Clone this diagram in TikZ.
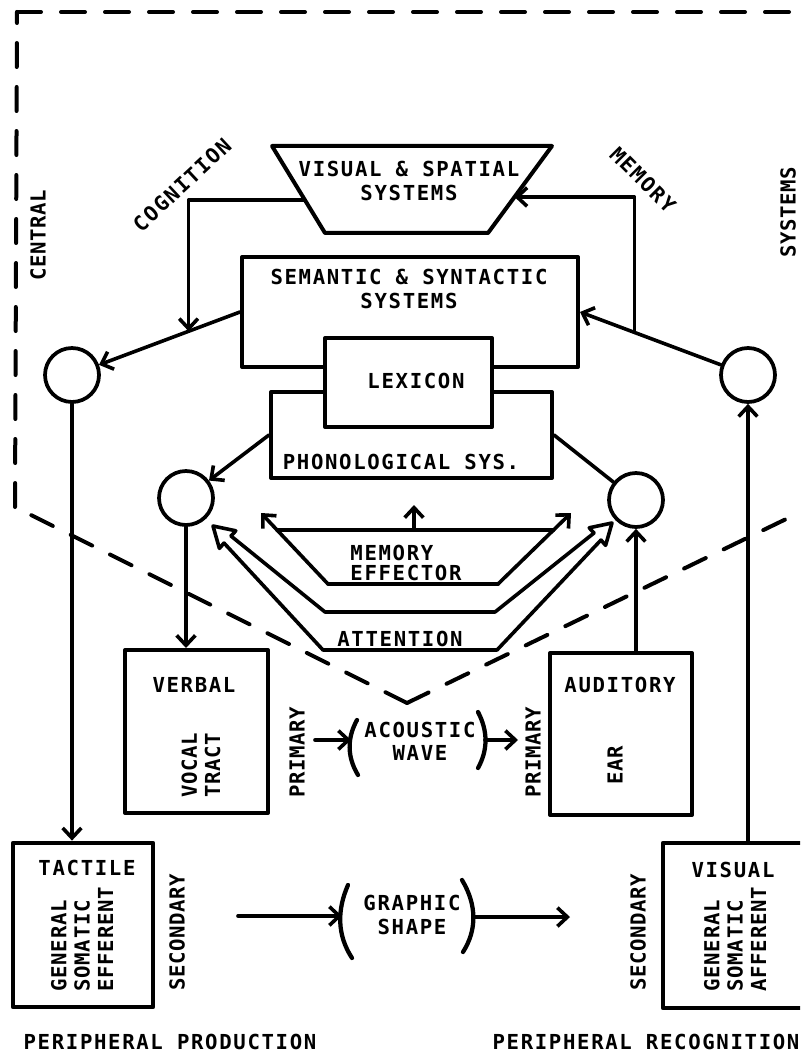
\documentclass[tikz,border=0pt]{standalone}
\usepackage{fontspec}
\newfontfamily\tw{DejaVu Sans Mono}[LetterSpace=8]
\newfontfamily\twr{DejaVu Sans Mono}[LetterSpace=3]
\usetikzlibrary{arrows.meta,calc}
\begin{document}
\begin{tikzpicture}[x=0.75pt,y=-0.75pt,line width=2.7pt,line join=round,line cap=round,
  lbl/.style={inner sep=0pt,align=center,font=\tw\bfseries\fontsize{15.5}{17.5}\selectfont},
  rlbl/.style={inner sep=0pt,align=center,rotate=90,font=\twr\bfseries\fontsize{15.5}{17.5}\selectfont},
  boxn/.style={draw,line width=3pt,inner sep=0pt},
  circ/.style={draw,line width=2.8pt,circle,minimum size=40.5pt,inner sep=0pt},
  ar/.style={-{Straight Barb[length=7.5pt,width=14pt]}},
  dsh/.style={line width=3pt,dash pattern=on 18pt off 15pt},
  paren/.style={line width=3.2pt}]
\useasboundingbox (0,0) rectangle (800,1055);
\fill[white] (0,0) rectangle (800,1055);
\clip (0,0) rectangle (800,1055);

% dashed boundary
\coordinate (bTL) at (17,12);
\coordinate (bTR) at (815,12);
\coordinate (bBL) at (15,507);
\coordinate (bV) at (407,703);
\coordinate (bR) at (815,505);
\draw[dsh] (bTL) -- (bTR);
\draw[dsh] (bBL) -- (bTL);
\draw[dsh] (bV) -- (bBL);
\draw[dsh] (bV) -- (bR);

% visual & spatial trapezoid
\coordinate (v1) at (272,146);
\coordinate (v2) at (552,146);
\coordinate (v3) at (488,233);
\coordinate (v4) at (325,233);
\draw[line width=3pt] (v1) -- (v2) -- (v3) -- (v4) -- cycle;
\node[lbl] (vis) at (409,181) {VISUAL \& SPATIAL\\SYSTEMS};
\coordinate (visL) at ($(v1)!0.62!(v4)$);
\coordinate (visR) at ($(v2)!0.586!(v3)$);

% central boxes
\node[boxn,minimum width=252pt,minimum height=82.5pt] (sem) at (410,312) {};
\node[lbl] (semt) at (409,289) {SEMANTIC \& SYNTACTIC\\SYSTEMS};
\node[boxn,minimum width=210.75pt,minimum height=64.5pt] (phon) at (411.5,435) {};
\node[lbl] (phont) at (401,462) {PHONOLOGICAL SYS.};
\node[boxn,fill=white,minimum width=125.25pt,minimum height=66.75pt] (lex) at (408.5,382.5) {};
\node[lbl] (lext) at (416,381) {LEXICON};

% circles
\node[circ] (cL1) at (72,375) {};
\node[circ] (cL2) at (186,498) {};
\node[circ] (cR2) at (636,500) {};
\node[circ] (cR1) at (748,375) {};

% peripheral boxes
\node[boxn,minimum width=107.25pt,minimum height=122.25pt] (verb) at (196.5,731.5) {};
\node[boxn,minimum width=106.5pt,minimum height=121.5pt] (aud) at (621,734) {};
\node[boxn,line width=3.6pt,minimum width=105pt,minimum height=123pt] (tac) at (83,925) {};
\node[boxn,line width=3.6pt,minimum width=125.25pt,minimum height=123.75pt] (visb) at (746.5,925.5) {};

% connectors
\draw[ar] (sem.west) -- (cL1);
\coordinate (cogEnd) at ($(sem.west)!0.306!(cL1.center)$);
\draw[ar] (visL) -| (cogEnd);
\draw[ar] (cR1) -- (sem.east);
\coordinate (memStart) at ($(cR1.center)!0.676!(sem.east)$);
\draw[ar] (memStart) |- (visR);
\draw[ar] (cL1) -- (cL1 |- tac.north);
\draw[ar] (phon.west) -- (cL2);
\draw (phon.east) -- (cR2);
\draw[ar] (cL2) -- (cL2 |- verb.north);
\draw[ar] (cR2 |- aud.north) -- (cR2);
\draw[ar] (cR1 |- visb.north) -- (cR1);

% memory effector
\coordinate (meL) at (261,513);
\coordinate (meBL) at (328,584);
\coordinate (meBR) at (498,584);
\coordinate (meR) at (571,513);
\coordinate (meC) at (414,530);
\coordinate (meCt) at (414,505);
\draw[ar] (meBL) -- (meL);
\draw[ar] (meBR) -- (meR);
\draw (meBL) -- (meBR);
\draw ($(meBL)!0.761!(meL)$) -- ($(meBR)!0.761!(meR)$);
\draw[ar] (meC) -- (meCt);
\node[lbl,align=left,font=\tw\bfseries\fontsize{15.5}{15}\selectfont] (me) at (406,563) {MEMORY\\EFFECTOR};

% attention (hollow double arrow)
\draw (231,536) -- (325,612) -- (495,612) -- (594,533);
\draw (224,543) -- (323,650) -- (497,650) -- (601,540);
\draw (231,536) -- (235.8,530.8) -- (213,526) -- (219.4,548.4) -- (224,543);
\draw (594,533) -- (589.2,527.8) -- (612,523) -- (605.6,545.4) -- (601,540);
\node[lbl] (att) at (400,639) {ATTENTION};

% acoustic wave
\node[lbl] (ac) at (420,741) {ACOUSTIC\\WAVE};
\draw[paren] (357,720) .. controls (347,738) and (347,757) .. (358,775);
\draw[paren] (478,712) .. controls (488,731) and (488,750) .. (478,768);
\coordinate (acA) at (315,740);
\coordinate (acB) at (351,740);
\coordinate (acC) at (485,740);
\coordinate (acD) at (518,740);
\draw[ar] (acA) -- (acB);
\draw[ar] (acC) -- (acD);

% graphic shape
\node[lbl] (gr) at (412,915) {GRAPHIC\\SHAPE};
\draw[paren] (348,885) .. controls (337,910) and (337,935) .. (352,958);
\draw[paren] (462,880) .. controls (477,905) and (477,930) .. (463,952);
\coordinate (grA) at (238,916);
\coordinate (grB) at (342,916);
\coordinate (grC) at (473,917);
\coordinate (grD) at (570,917);
\draw[ar] (grA) -- (grB);
\draw[ar] (grC) -- (grD);

% labels
\node[rlbl] (central) at (38,235) {CENTRAL};
\node[rlbl] (systems) at (788,212) {SYSTEMS};
\node[lbl,rotate=43] (cog) at (182,185) {COGNITION};
\node[lbl,rotate=-45] (mem) at (643,180) {MEMORY};
\node[rlbl] (prim1) at (297,752) {PRIMARY};
\node[rlbl] (prim2) at (533,752) {PRIMARY};
\node[rlbl] (sec1) at (177,932) {SECONDARY};
\node[rlbl] (sec2) at (638,932) {SECONDARY};
\node[lbl] (verbt) at (194,685) {VERBAL};
\node[rlbl] (vocal) at (201,765) {VOCAL\\TRACT};
\node[lbl] (audt) at (620,685) {AUDITORY};
\node[rlbl] (ear) at (615,765) {EAR};
\node[lbl] (tact) at (87,868) {TACTILE};
\node[rlbl,align=left,anchor=west] (gse) at (82,993) {GENERAL\\SOMATIC\\EFFERENT};
\node[lbl] (vist) at (733,870) {VISUAL};
\node[rlbl,align=left,anchor=west] (gsa) at (735,993) {GENERAL\\SOMATIC\\AFFERENT};
\node[lbl] (pp) at (170,1042) {PERIPHERAL PRODUCTION};
\node[lbl] (pr) at (646,1042) {PERIPHERAL RECOGNITION};
\end{tikzpicture}
\end{document}
